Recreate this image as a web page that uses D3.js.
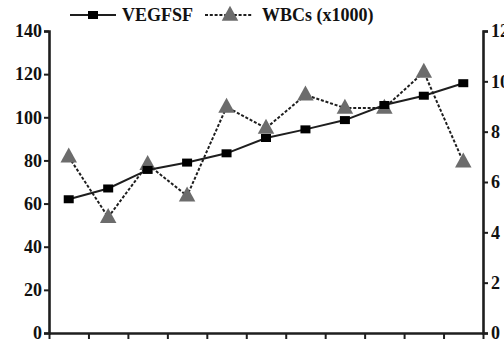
<!DOCTYPE html>
<html>
<head>
<meta charset="utf-8">
<script src="https://cdn.jsdelivr.net/npm/d3@7"></script>
<style>
  html, body { margin: 0; padding: 0; background: #fff; }
  svg { display: block; }
  text { font-family: "Liberation Serif", "Times New Roman", serif; font-weight: bold; fill: #111; }
</style>
</head>
<body>
<div id="chart"></div>
<script>
// categories (unlabelled on the x axis)
const categories = [1, 2, 3, 4, 5, 6, 7, 8, 9, 10, 11];
// left axis series
const vegfsf = [62, 67, 75.6, 79, 83.3, 90.4, 94.4, 98.7, 105.7, 110, 115.8];
// right axis series (x1000)
const wbcs = [7.0, 4.6, 6.7, 5.45, 8.98, 8.14, 9.46, 8.94, 8.94, 10.37, 6.8];
const leftTicks = [0, 20, 40, 60, 80, 100, 120, 140];
const rightTicks = [0, 2, 4, 6, 8, 10, 12];

const W = 504, H = 339;
const m = { left: 49, right: 21, top: 31, bottom: 6 };
const ink = '#1e1e1e';

const svg = d3.select('#chart').append('svg')
  .attr('width', W).attr('height', H);

const x = d3.scaleLinear().domain([0, categories.length]).range([m.left, W - m.right]);
const yL = d3.scaleLinear().domain([0, 140]).range([H - m.bottom, m.top]);
const yR = d3.scaleLinear().domain([0, 12]).range([H - m.bottom, m.top]);
const cx = (d, i) => x(i + 0.5);

// axes
function styleAxis(g) {
  g.selectAll('path').attr('stroke', ink).attr('stroke-width', 2.6);
  g.selectAll('line').attr('stroke', ink).attr('stroke-width', 2);
  g.selectAll('text').style('font-size', '18px').attr('fill', '#111');
}
svg.append('g').attr('transform', `translate(${m.left},0)`)
  .call(d3.axisLeft(yL).tickValues(leftTicks).tickSize(5).tickSizeOuter(5).tickPadding(2))
  .call(styleAxis);
svg.append('g').attr('transform', `translate(${W - m.right},0)`)
  .call(d3.axisRight(yR).tickValues(rightTicks).tickSize(5).tickSizeOuter(5).tickPadding(3))
  .call(styleAxis);
svg.append('g').attr('transform', `translate(0,${H - m.bottom})`)
  .call(d3.axisBottom(x).tickValues(d3.range(0, categories.length + 1)).tickSize(6).tickSizeOuter(0).tickFormat(''))
  .call(styleAxis);

// WBCs dashed line + triangles
const tri = (s) => `M0,${-s * 0.62}L${s * 0.55},${s * 0.38}L${-s * 0.55},${s * 0.38}Z`;
svg.append('path').datum(wbcs)
  .attr('d', d3.line().x(cx).y(d => yR(d)))
  .attr('fill', 'none').attr('stroke', ink).attr('stroke-width', 2)
  .attr('stroke-dasharray', '3,1.8');
svg.append('g').selectAll('path').data(wbcs).join('path')
  .attr('transform', (d, i) => `translate(${cx(d, i)},${yR(d)})`)
  .attr('d', tri(15)).attr('fill', '#6c6c6c');

// VEGFSF solid line + squares
svg.append('path').datum(vegfsf)
  .attr('d', d3.line().x(cx).y(d => yL(d)))
  .attr('fill', 'none').attr('stroke', ink).attr('stroke-width', 2);
svg.append('g').selectAll('rect').data(vegfsf).join('rect')
  .attr('x', (d, i) => cx(d, i) - 5).attr('y', d => yL(d) - 4)
  .attr('width', 10).attr('height', 8).attr('fill', '#000');

// legend
const lg = svg.append('g').attr('transform', 'translate(0,15)');
lg.append('line').attr('x1', 70).attr('x2', 116).attr('stroke', ink).attr('stroke-width', 2);
lg.append('rect').attr('x', 88).attr('y', -4).attr('width', 10).attr('height', 8).attr('fill', '#000');
lg.append('text').attr('x', 122).attr('y', 6).style('font-size', '18px').text('VEGFSF');
lg.append('line').attr('x1', 205).attr('x2', 252).attr('stroke', ink).attr('stroke-width', 2)
  .attr('stroke-dasharray', '3,1.8');
lg.append('path').attr('transform', 'translate(230,0)').attr('d', tri(15)).attr('fill', '#6c6c6c');
lg.append('text').attr('x', 262).attr('y', 6).style('font-size', '18px').text('WBCs (x1000)');
</script>
</body>
</html>
